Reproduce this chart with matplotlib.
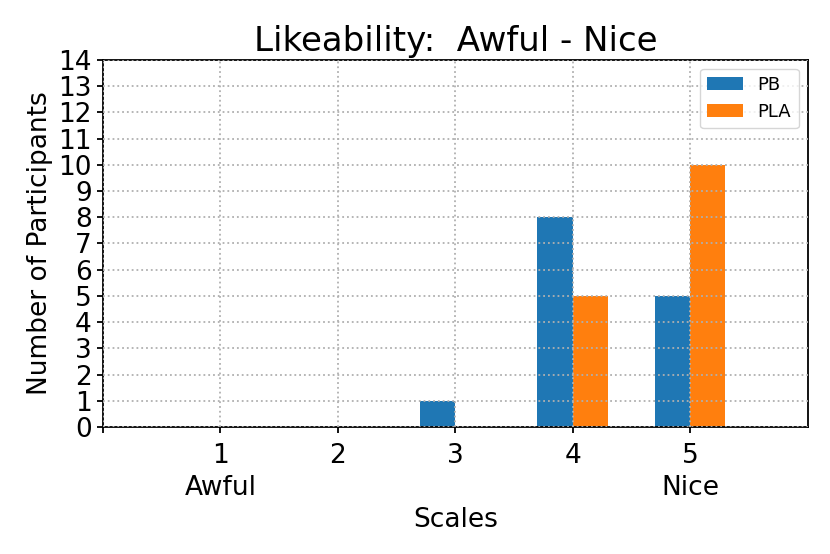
import matplotlib
matplotlib.use("Agg")
import matplotlib.pyplot as plt
import numpy as np

scales = [1, 2, 3, 4, 5]
pb = [0, 0, 1, 8, 5]
pla = [0, 0, 0, 5, 10]
tick_pos = [0, 1, 2, 3, 4, 5]
tick_labels = ['', '1\nAwful', '2', '3', '4', '5\nNice']

fig = plt.figure(figsize=(8.3, 5.54), dpi=100)
ax = fig.add_axes([0.124, 0.229, 0.849, 0.663])

x = np.array(scales)
w = 0.3
ax.bar(x - w, pb, width=w, align='edge', color='#1f77b4', label='PB')
ax.bar(x, pla, width=w, align='edge', color='#ff7f0e', label='PLA')

ax.set_xlim(0, 6)
ax.set_ylim(0, 14)
ax.set_yticks(range(0, 15))
ax.set_xticks(tick_pos)
ax.set_xticklabels(tick_labels, linespacing=1.3)
ax.tick_params(labelsize=19, width=1.3, length=4.5)
ax.tick_params(axis='x', pad=7)
for s in ax.spines.values():
    s.set_linewidth(1.3)
ax.grid(True, linestyle=':', color='#b0b0b0', linewidth=1.3, zorder=3)
ax.set_axisbelow(False)

ax.set_title('Likeability:  Awful - Nice', fontsize=24.5)
ax.set_xlabel('Scales', fontsize=19)
ax.set_ylabel('Number of Participants', fontsize=19)
ax.legend(loc='upper right', fontsize=13)

fig.savefig('out.png', dpi=100)
